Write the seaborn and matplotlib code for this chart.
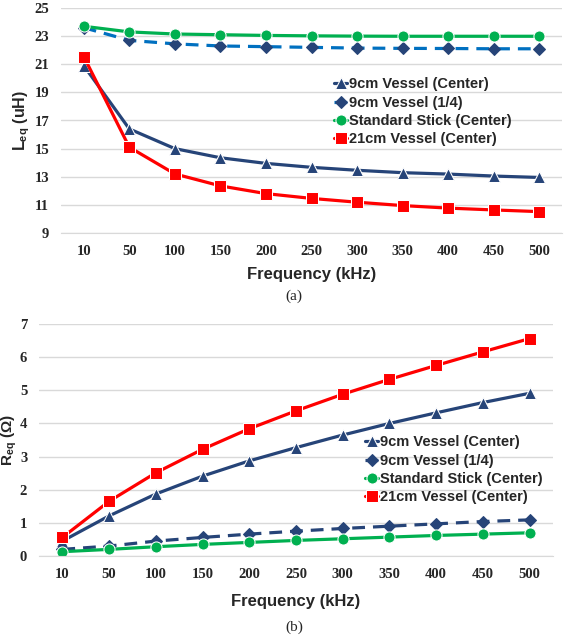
import pandas as pd
import matplotlib
matplotlib.use("Agg")
import matplotlib.pyplot as plt
import seaborn as sns

# frequencies (kHz)
freqs = ["10", "50", "100", "150", "200", "250", "300", "350", "400", "450", "500"]

# (a) equivalent inductance (uH)
leq_9cm_center = [20.9, 16.4, 15.0, 14.35, 13.95, 13.67, 13.46, 13.29, 13.19, 13.05, 12.95]
leq_9cm_quarter = [23.6, 22.7, 22.45, 22.3, 22.25, 22.2, 22.15, 22.13, 22.12, 22.1, 22.1]
leq_stick = [23.7, 23.3, 23.15, 23.1, 23.05, 23.02, 23.0, 22.99, 22.99, 22.99, 22.99]
leq_21cm = [21.55, 15.1, 13.2, 12.35, 11.8, 11.46, 11.19, 10.95, 10.77, 10.64, 10.52]

# (b) equivalent resistance (ohm)
req_9cm_center = [0.45, 1.21, 1.87, 2.41, 2.87, 3.27, 3.65, 4.0, 4.32, 4.63, 4.91]
req_9cm_quarter = [0.2, 0.3, 0.45, 0.56, 0.66, 0.75, 0.83, 0.9, 0.97, 1.04, 1.09]
req_stick = [0.13, 0.2, 0.28, 0.35, 0.41, 0.47, 0.52, 0.57, 0.62, 0.66, 0.7]
req_21cm = [0.56, 1.65, 2.51, 3.22, 3.84, 4.38, 4.88, 5.33, 5.75, 6.16, 6.56]

labels = ["9cm Vessel (Center)", "9cm Vessel (1/4)", "Standard Stick (Center)", "21cm Vessel (Center)"]

sns.set_style("white")
plt.rcParams['font.family'] = ['Liberation Sans', 'DejaVu Sans']
plt.rcParams['mathtext.fontset'] = 'custom'
plt.rcParams['mathtext.bf'] = 'Liberation Sans:bold'
plt.rcParams['mathtext.rm'] = 'Liberation Sans:bold'

navy = "#264478"
light_blue = "#0070C0"
green = "#00B050"
red = "#FF0000"

fig = plt.figure(figsize=(5.69, 6.39), dpi=100)
ax1 = fig.add_axes([61 / 569, 1 - 233 / 639, 501 / 569, 225 / 639])
ax2 = fig.add_axes([39 / 569, 1 - 556 / 639, 514 / 569, 232 / 639])

tick_font = dict(family="Liberation Serif", weight="bold", size=10.5)
legend_font = {"family": "Liberation Sans", "weight": "bold", "size": 10.5}


def draw(ax, series, dash_color):
    styles = [
        dict(color=navy, marker="^", linestyle="-"),
        dict(color=dash_color, marker="D", linestyle=(0, (4, 2.5)), markerfacecolor=navy, markeredgecolor=navy, markersize=6),
        dict(color=green, marker="o", linestyle="-"),
        dict(color=red, marker="s", linestyle="-"),
    ]
    for vals, st in zip(series, styles):
        df = pd.DataFrame({"freq": freqs, "val": vals})
        kw = dict(markersize=8, linewidth=2.3)
        kw.update(st)
        sns.lineplot(data=df, x="freq", y="val", ax=ax, sort=False, **kw)
    ax.set_xlim(-0.5, len(freqs) - 0.5)
    ax.grid(True, axis="y", color="#D9D9D9", linewidth=1)
    ax.set_axisbelow(True)
    for s in ["top", "right", "left"]:
        ax.spines[s].set_visible(False)
    ax.spines["bottom"].set_color("#D9D9D9")
    ax.tick_params(length=0)
    ax.set_xlabel("Frequency (kHz)", fontsize=12, fontweight="bold")


def style_ticks(ax):
    for t in ax.get_xticklabels() + ax.get_yticklabels():
        t.set_fontfamily(tick_font["family"])
        t.set_fontweight(tick_font["weight"])
        t.set_fontsize(tick_font["size"])


draw(ax1, [leq_9cm_center, leq_9cm_quarter, leq_stick, leq_21cm], light_blue)
ax1.set_ylim(9, 25)
ax1.set_yticks(range(9, 26, 2))
style_ticks(ax1)
ax1.tick_params(axis="x", pad=9)
ax1.tick_params(axis="y", pad=8.5)
ax1.set_ylabel(r"$\mathbf{L_{eq}}$ (uH)", fontsize=11.5, fontweight="bold")
ax1.yaxis.set_label_coords(-0.058, 0.5)
ax1.xaxis.labelpad = 6
ax1.legend(handles=ax1.lines[:4], labels=labels, loc="upper left",
           bbox_to_anchor=(327 / 569, 1 - 70 / 639), bbox_transform=fig.transFigure,
           frameon=False, handlelength=0.9, handletextpad=0.1, labelspacing=0.3, borderpad=0,
           prop=legend_font)

draw(ax2, [req_9cm_center, req_9cm_quarter, req_stick, req_21cm], navy)
ax2.set_ylim(0, 7)
ax2.set_yticks(range(0, 8))
style_ticks(ax2)
ax2.tick_params(axis="x", pad=9)
ax2.tick_params(axis="y", pad=8.5)
ax2.set_ylabel(r"$\mathbf{R_{eq}}$ ($\mathbf{\Omega}$)", fontsize=11, fontweight="bold")
ax2.yaxis.set_label_coords(-0.038, 0.5)
ax2.xaxis.labelpad = 9
ax2.legend(handles=ax2.lines[:4], labels=labels, loc="upper left",
           bbox_to_anchor=(358 / 569, 1 - 428 / 639), bbox_transform=fig.transFigure,
           frameon=False, handlelength=0.9, handletextpad=0.1, labelspacing=0.3, borderpad=0,
           prop=legend_font)

fig.text(294 / 569, 1 - 296 / 639, "(a)", fontsize=11, family="Liberation Serif", ha="center", va="center")
fig.text(294 / 569, 1 - 627 / 639, "(b)", fontsize=11, family="Liberation Serif", ha="center", va="center")

fig.savefig("out.png", dpi=100)
